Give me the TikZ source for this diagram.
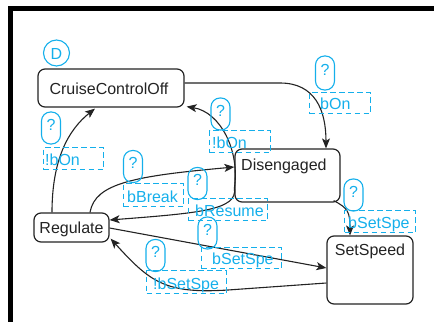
\documentclass[tikz,border=0pt]{standalone}
\usepackage{fontspec}
\setmainfont{Liberation Sans}
\usetikzlibrary{arrows.meta}
\definecolor{sig}{RGB}{20,175,235}
\definecolor{ink}{RGB}{35,35,35}

\begin{document}
\begin{tikzpicture}[x=1pt,y=-1pt,
  state/.style={draw=ink, line width=1.2pt, rounded corners=7pt, inner sep=0pt},
  statetext/.style={text=ink, font=\fontsize{16}{18}\selectfont, inner sep=0pt},
  pill/.style={draw=sig, line width=1.1pt, rounded corners=9pt, minimum width=19pt, minimum height=32pt, inner sep=0pt},
  qmark/.style={text=sig, font=\fontsize{16}{18}\selectfont, inner sep=0pt, anchor=base},
  guard/.style={draw=sig, line width=1.1pt, dash pattern=on 5.5pt off 3.5pt, inner sep=0pt, anchor=north west},
  guardtext/.style={text=sig, font=\fontsize{16}{18}\selectfont, inner sep=0pt, anchor=base west},
  trans/.style={draw=ink, line width=1.1pt, -{Stealth[length=10pt,width=8pt,inset=2.5pt]}},
]
\useasboundingbox (0,0) rectangle (434,322);

% frame
\fill[black] (8,5.5) rectangle (434,11);
\fill[black] (8,5.5) rectangle (13,322);

% default marker
\node[draw=sig, line width=1.1pt, circle, minimum size=26pt, inner sep=0pt] (dflt) at (56.5,53) {};
\node[text=sig, font=\fontsize{16}{18}\selectfont, inner sep=0pt, anchor=base] (dfltt) at (56.5,59) {D};

% states
\node[state, minimum width=146pt, minimum height=38pt] (cco) at (111,88) {};
\node[statetext, anchor=base] (ccot) at (109,94) {CruiseControlOff};

\node[state, minimum width=105pt, minimum height=53pt] (dis) at (287.5,175.5) {};
\node[statetext, anchor=base west] (dist) at (241,170) {Disengaged};

\node[state, minimum width=86pt, minimum height=68pt] (ss) at (370,270) {};
\node[statetext, anchor=base] (sst) at (370,255) {SetSpeed};

\node[state, minimum width=75pt, minimum height=29pt] (reg) at (71.5,227.5) {};
\node[statetext, anchor=base] (regt) at (71.5,233) {Regulate};

% transitions
\draw[trans] ([yshift=5pt]cco.east) -- (280,83) .. controls (315,83) and (326,110) .. ([xshift=38.5pt]dis.north);
\draw[trans] ([yshift=-12.5pt]dis.west) .. controls (240,150) and (220,112) .. ([xshift=2pt,yshift=1pt]cco.south east);
\draw[trans] ([yshift=-12.5pt]dis.west) .. controls (238,210) and (200,213) .. ([yshift=7.5pt]reg.east);
\draw[trans] ([xshift=-19.5pt]reg.north) .. controls (52,160) and (68,130) .. ([xshift=-16pt,yshift=-1pt]cco.south);
\draw[trans] ([xshift=18.5pt]reg.north) .. controls (95,183) and (135,176) .. ([yshift=8.5pt]dis.west);
\draw[trans] ([yshift=-0.5pt]reg.east) -- ([yshift=2pt]ss.west);
\draw[trans] ([yshift=-13pt]ss.west) -- (228,290) .. controls (165,294) and (150,282) .. ([xshift=1pt,yshift=4pt]reg.south east);
\draw[trans] ([xshift=-7pt,yshift=2pt]dis.south east) .. controls (348,208) and (350,212) .. ([xshift=-20pt]ss.north);

% guards
\node[pill] (q1) at (51,128) {};
\node[qmark] (q1t) at (51,130) {?};
\node[guard, minimum width=60pt, minimum height=22pt] (g1) at (43,147) {};
\node[guardtext] (g1t) at (45,165) {!bOn};

\node[pill, minimum height=34pt] (q2) at (325,73) {};
\node[qmark] (q2t) at (325,75) {?};
\node[guard, minimum width=61pt, minimum height=21pt] (g2) at (309,92) {};
\node[guardtext] (g2t) at (320,109) {bOn};

\node[pill] (q3) at (220.5,114) {};
\node[qmark] (q3t) at (220.5,116) {?};
\node[guard, minimum width=61pt, minimum height=22pt] (g3) at (209,130) {};
\node[guardtext] (g3t) at (212,148) {!bOn};

\node[pill] (q4) at (133,166.5) {};
\node[qmark] (q4t) at (133,168.5) {?};
\node[guard, minimum width=60pt, minimum height=23pt] (g4) at (123,183) {};
\node[guardtext] (g4t) at (127,202) {bBreak};

\node[pill] (q5) at (197.5,183.5) {};
\node[qmark] (q5t) at (197.5,185.5) {?};
\node[guard, minimum width=79pt, minimum height=22pt] (g5) at (188,198) {};
\node[guardtext] (g5t) at (195,216) {bResume};

\node[pill] (q6) at (207.5,233) {};
\node[qmark] (q6t) at (207.5,235) {?};
\node[guard, minimum width=80pt, minimum height=21pt] (g6) at (201,247) {};
\node[guardtext] (g6t) at (212,264) {bSetSpe};

\node[pill] (q7) at (155.5,255.5) {};
\node[qmark] (q7t) at (155.5,257.5) {?};
\node[guard, minimum width=80pt, minimum height=23pt] (g7) at (146,270) {};
\node[guardtext] (g7t) at (153,289) {!bSetSpe};

\node[pill] (q8) at (353.5,195) {};
\node[qmark] (q8t) at (353.5,197) {?};
\node[guard, minimum width=71pt, minimum height=22pt] (g8) at (344,210) {};
\node[guardtext] (g8t) at (348,228) {bSetSpe};
\end{tikzpicture}
\end{document}
